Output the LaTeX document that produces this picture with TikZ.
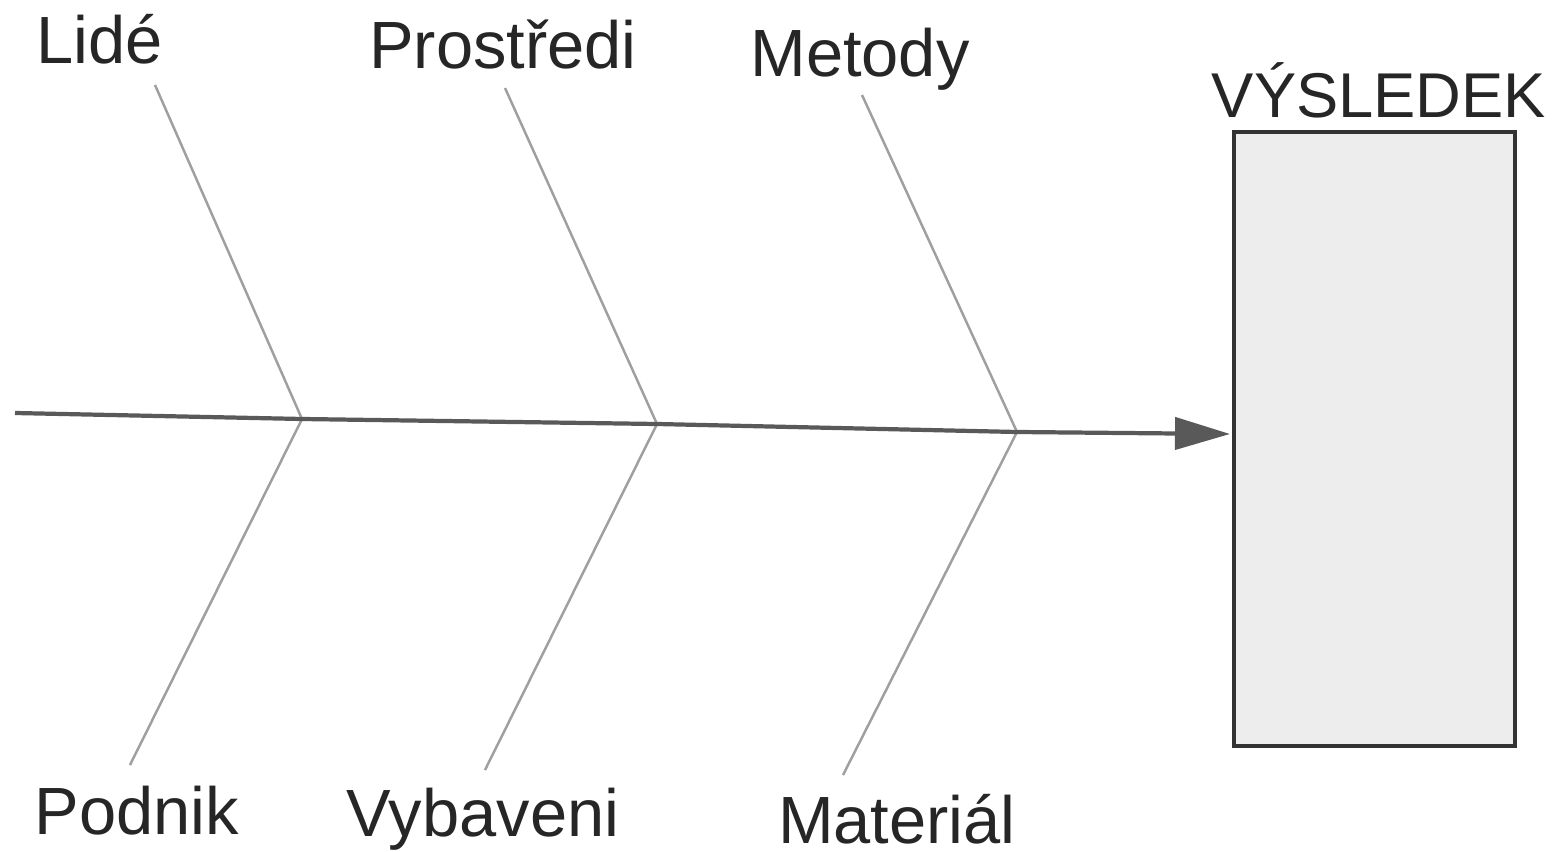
\documentclass[tikz,border=0pt]{standalone}
\usepackage{fontspec}
\setmainfont{Liberation Sans}
\usetikzlibrary{arrows.meta}
\begin{document}
\begin{tikzpicture}[
    x=0.01cm, y=-0.01cm,
    spine/.style={draw=gray!70!black, line width=1.2pt,
      -{Triangle[length=0.55cm, width=0.32cm]}},
    bone/.style={draw=gray!75, line width=0.7pt},
    lab/.style={font=\fontsize{19}{22}\selectfont, text=black!85, inner sep=0pt, anchor=base},
    result/.style={draw=black!80, fill=gray!14, line width=1.2pt}]
  \useasboundingbox (0,0) rectangle (1564,852);
  % joints on the spine
  \coordinate (tail) at (15,413);
  \coordinate (j1)   at (302,419);
  \coordinate (j2)   at (657,424);
  \coordinate (j3)   at (1017,432);
  \coordinate (head) at (1230,434);
  % free ends of the bones
  \coordinate (t1) at (155,85);
  \coordinate (t2) at (505,88);
  \coordinate (t3) at (862,95);
  \coordinate (b1) at (130,765);
  \coordinate (b2) at (485,770);
  \coordinate (b3) at (843,775);
  % result box
  \draw[result] (1234,132) rectangle (1515,746);
  \node[lab, font=\fontsize{18}{21}\selectfont] (vys) at (1379,118) {VÝSLEDEK};
  % bones
  \draw[bone] (t1) -- (j1) -- (b1);
  \draw[bone] (t2) -- (j2) -- (b2);
  \draw[bone] (t3) -- (j3) -- (b3);
  % spine
  \draw[spine] (tail) -- (j1) -- (j2) -- (j3) -- (head);
  % labels
  \node[lab] (lide)  at (100,64)  {Lidé};
  \node[lab] (pros)  at (503,69)  {Prostředi};
  \node[lab] (met)   at (860,77)  {Metody};
  \node[lab] (pod)   at (137,834) {Podnik};
  \node[lab] (vyb)   at (483,836) {Vybaveni};
  \node[lab] (mat)   at (897,843) {Materiál};
\end{tikzpicture}
\end{document}
